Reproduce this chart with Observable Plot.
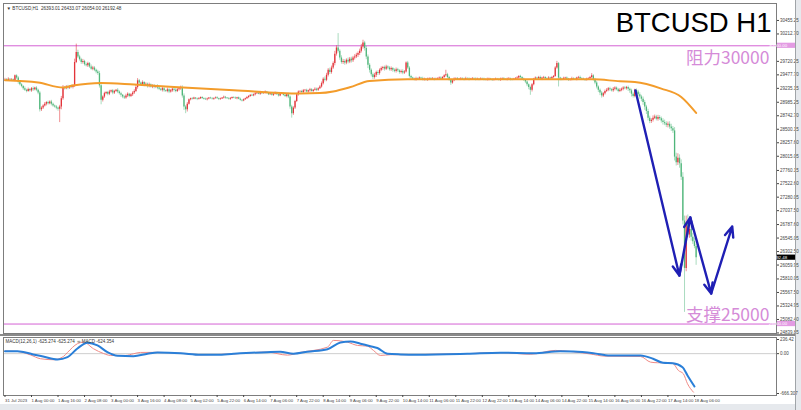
<!DOCTYPE html>
<html><head><meta charset="utf-8">
<script src="https://cdn.jsdelivr.net/npm/d3@7"></script>
<script src="https://cdn.jsdelivr.net/npm/@observablehq/plot@0.6"></script>
<style>
html,body{margin:0;padding:0;background:#fff;}
#wrap{position:relative;width:801px;height:410px;background:#e6e9ed;overflow:hidden;}
#main,#macd{position:absolute;left:0;width:796px;background:#fff;}
#main{top:0;height:334px;}
#sep{position:absolute;left:0;top:334px;width:796px;height:2px;background:#8a8a8a;}
#macd{top:336px;height:68px;}
#vline{position:absolute;left:795px;top:0;width:1px;height:410px;background:#a0a4a8;}
svg{display:block;}
</style></head><body>
<div id="wrap"><div id="main"></div><div id="sep"></div><div id="macd"></div><div id="vline"></div></div>
<script>
// ---------- DATA ----------
const symbolHeader = "▼ BTCUSD,H1  26393.01 26433.07 26054.00 26192.48";
const macdHeader = "MACD(12,26,1) -625.274 -625.274  ∞ MACD -624.354";
const title = "BTCUSD H1";
const resistance = 30000, support = 25000;
const resistanceLabel = "阻力30000", supportLabel = "支撑25000";
const lastPriceLabel = "26192.48";

const firstOpen = 29390;
// hourly closes, bar 0 = 31 Jul 08:00
const closes = [
  29395,29380,29400,29385,29390,29375,29460,29420,
  29340,29300,29270,29230,29200,29180,29215,29190,29230,29210,29240,29200,29150,
  28850,
  28880,28920,28950,28980,28960,28990,28950,28920,28900,28880,28860,28900,
  29050,29250,29230,29260,29240,29270,29250,29280,
  29700,29880,29800,
  29750,29700,29720,29660,29640,29680,29620,29580,29600,29560,29530,29500,
  29280,29020,
  29080,29140,29160,29130,29170,29190,29150,29180,29200,29170,29140,29110,29080,29060,29100,29130,29090,29120,29150,29180,
  29250,29370,29330,
  29300,29340,29290,29310,29270,29300,29260,29280,29250,29270,29240,
  29220,29200,29230,29190,29180,29210,29170,29190,29220,29200,29180,29210,29230,29250,
  29100,28900,28850,28950,
  29030,29050,29040,29060,29045,29035,29050,29070,29055,29040,
  29030,29045,29060,29050,29040,29055,29065,29050,29035,29045,
  29060,29075,29060,29050,29040,29055,29070,29060,29050,29065,
  29040,29020,29010,29030,29050,29070,29090,29110,29100,29120,
  29140,29150,29130,29160,29140,29150,29170,29150,
  29120,29140,29110,29130,29150,29120,29100,29130,29140,29110,29090,29120,29080,
  28900,28780,28880,29000,29120,29170,
  29180,29160,29190,29200,29170,29190,29210,29180,29200,29220,29200,29230,29260,
  29320,29400,29380,29470,29560,29520,29600,29680,
  29850,29960,29900,
  29780,29700,29720,29690,29740,29710,29760,29730,29780,29800,29830,29860,29900,
  29980,30050,29950,
  29800,29650,29560,29480,29430,29470,29520,29500,
  29560,29590,29610,29580,29620,29600,29570,29590,29560,29540,29570,29550,29520,29540,29510,29530,29690,29600,
  29450,29420,29400,29390,29410,29400,29420,29410,29390,29400,29380,29400,29410,29395,29405,29390,
  29400,29410,29420,29400,29430,29460,29480,29430,29380,29330,29370,29400,29410,29395,29400,29410,
  29400,29390,29410,29405,29395,29400,29410,29400,29390,29400,29395,29405,29400,29390,29385,29395,
  29400,29390,29380,29395,29400,29390,29385,29400,29410,29395,29390,29400,29405,29395,29390,29400,
  29410,29420,29450,29430,29400,29380,29350,29300,29250,29200,29300,29400,
  29420,29410,29430,29400,29420,29430,29410,29400,29420,29410,29430,29450,
  29600,29680,29420,
  29400,29390,29410,29420,29400,29380,29390,29410,29400,29390,29420,29430,29410,29400,29390,29380,29400,29410,29430,29460,29390,
  29330,29260,29200,29150,29100,29140,29180,29200,29230,29210,29190,29220,29240,29210,29180,29200,
  29220,29240,29230,29250,29220,29190,29130,29090,29200,
  29170,29120,29080,29040,28980,28900,28820,28700,28640,28660,
  28700,28720,28680,28710,28690,28650,28620,
  28600,28570,28590,28540,28510,28470,
  28000,27900,27980,27880,
  27640,26850,26000,26820,26600,26700,26560,26480,26393,26192.48
];
// wick length (USD) above / below each candle body
const wickUp = [
  20,15,25,10,20,15,15,20,25,30,20,15,30,20,25,15,20,30,15,25,
  20,30,25,20,30,15,25,20,30,20,15,25,20,30,40,35,20,25,30,15,
  25,20,60,150,40,30,25,35,20,30,25,20,35,30,25,20,30,40,30,20,
  25,15,20,30,15,25,20,15,30,20,25,15,20,30,25,15,20,25,30,35,
  40,25,20,30,15,25,20,30,15,20,25,15,30,20,15,25,20,15,30,20,
  25,15,20,30,25,20,25,30,35,25,30,15,10,20,15,10,15,20,10,15,
  10,20,15,10,15,20,10,15,20,10,15,10,20,15,10,20,15,10,15,20,
  10,15,20,10,15,10,20,15,10,20,15,20,10,15,20,10,15,20,10,15,
  20,10,15,20,15,10,20,15,10,20,15,25,20,30,25,20,25,20,15,20,
  25,15,20,15,25,20,15,25,20,15,25,30,25,40,35,30,40,35,30,50,
  40,260,30,40,35,30,25,40,30,35,30,40,35,30,40,45,50,30,40,35,
  30,25,30,35,25,30,25,30,20,25,30,20,25,30,20,25,30,25,20,25,
  30,25,20,30,25,20,15,20,25,15,20,15,25,20,15,20,15,20,25,15,
  20,15,20,25,15,20,80,25,20,15,20,25,15,20,15,20,15,20,25,15,
  20,15,20,15,25,20,15,20,15,20,15,25,20,15,20,15,20,15,25,20,
  15,20,15,20,25,15,20,15,20,25,15,20,15,20,15,20,15,25,20,15,
  20,15,20,25,15,20,15,20,25,15,20,15,25,40,20,15,20,25,15,20,
  15,20,25,15,20,15,20,25,15,20,15,20,15,20,40,20,25,30,20,25,
  30,20,25,30,20,25,20,30,25,20,25,30,20,25,30,20,25,20,30,25,
  20,25,30,35,30,40,35,30,40,35,30,40,35,30,40,35,30,40,45,35,
  40,45,50,40,60,70,80,60,70,80,90,120,140,90,80,70,60,40
];
const wickDown = [
  15,20,15,25,20,15,20,25,30,20,25,30,20,25,15,20,25,30,20,25,
  30,40,30,25,20,30,25,20,30,25,20,30,35,240,50,30,25,20,30,25,
  20,25,30,20,30,25,35,30,25,20,30,25,20,30,25,35,30,40,80,30,
  25,20,30,25,20,30,25,20,30,25,35,30,25,20,30,25,20,30,25,20,
  30,25,20,30,25,20,30,25,20,30,25,20,30,25,20,30,25,20,25,30,
  20,25,30,25,20,25,30,40,60,70,40,15,20,15,10,15,20,10,15,20,
  15,10,20,15,10,15,20,15,10,20,15,10,15,20,10,15,20,15,10,15,
  20,10,15,20,15,10,15,20,15,10,15,20,15,10,20,15,10,15,20,15,
  10,15,20,15,10,20,15,10,15,20,25,30,40,80,30,25,20,25,20,15,
  20,25,15,20,25,15,20,15,25,20,15,20,25,30,25,30,35,30,25,40,
  35,30,40,30,35,40,30,35,30,40,30,35,30,40,35,30,40,45,50,60,
  50,40,35,30,40,35,30,25,30,35,25,30,25,30,35,25,30,25,30,25,
  30,25,20,25,30,20,15,20,25,15,20,15,20,25,15,20,15,20,15,20,
  15,20,25,15,20,15,20,25,15,40,20,15,20,15,20,25,15,20,15,20,
  25,15,20,15,20,15,25,20,15,20,15,20,25,15,20,15,20,15,20,25,
  15,20,15,20,15,25,20,15,20,15,20,25,15,20,30,35,40,90,30,20,
  15,20,15,20,25,15,20,15,20,25,15,20,15,20,160,30,20,15,20,25,
  20,15,20,25,15,20,15,20,25,15,20,15,20,15,20,25,30,35,40,45,
  40,30,25,20,25,30,20,25,30,20,25,20,25,30,20,25,40,45,50,30,
  25,30,35,40,45,50,60,55,50,40,35,30,25,30,35,30,40,45,35,40,
  45,40,50,45,70,60,50,80,60,70,790,60,50,60,70,50,40,138
];
// moving average (orange) read at bar positions
const maIdx = [0,20,35,41,58,78,102,138,178,190,198,208,220,243,300,355,371,380,396,408,417];
const maVal = [29380,29339,29250,29285,29332,29303,29260,29201,29142,29150,29180,29255,29368,29398,29400,29398,29362,29350,29231,29081,28794];
// forecast arrows (blue zig-zag)
const arrowIdx = [380.4,406.9,413.5,426.1,438.8];
const arrowPrice = [29196,25872,26914,25549,26753];
// right price axis ticks
const priceTicks = [30455.25,30212.70,29720.25,29477.70,29235.15,28985.25,28742.70,28500.15,28257.60,28015.05,27760.15,27522.60,27280.05,27037.50,26787.60,26545.05,26302.50,26059.95,25810.05,25567.50,25324.95,25082.40,24839.85];
// MACD lines
const macdIdx = [0,7.5,17,23,31.7,37.7,43.7,49.8,55.8,61.8,67.9,77.5,86,92,106,118,128,138,158,166,174,182.5,194.6,202.4,208.4,214.5,220.5,224.7,230.8,238.6,248.9,279,299,319,335,343,355,365,383.4,391,397,403,408.8,411.8,416];
const macdVal = [42,42,-13,-47,-97,-58,87,182,137,25,-35,-42,-2,20,8,-18,-18,-2,25,32,-2,32,75,187,204,166,125,95,-2,-13,-18,-2,15,8,42,37,8,-30,-30,-85,-152,-159,-226,-364,-548];
const sigIdx = [0,7.5,15.4,21.4,29.3,35.3,37.7,43.7,47.4,53.4,59.4,63.7,72.7,77.5,81.7,92,106,118,138,158,170.4,178,194.6,198.2,206.6,212.7,218.7,222.3,226.5,232.6,249,279,299,317,332,341,353,362,383.4,389.5,393.7,401.5,403.3,406.3,409.3,411.8,415.4];
const sigVal = [42,37,-22,-85,-102,-47,20,166,192,82,3,-30,-30,-2,20,22,6,-20,-4,27,-25,20,109,221,192,137,125,54,-30,-18,-15,0,18,-10,54,37,-5,-42,-47,-142,-152,-152,-169,-281,-336,-503,-644];
const macdTicks = [236.42, 0, -666.307];
const macdTickLabels = ["236.42","0.00","-666.307"];
// time axis
const timeTickIdx = [0,16,32,48,64,80,96,112,128,144,160,176,192,208,224,240,256,272,288,304,320,336,352,368,384,400,416];
const timeTickLabels = ["31 Jul 2023","1 Aug 00:00","1 Aug 16:00","2 Aug 08:00","3 Aug 00:00","3 Aug 16:00","4 Aug 08:00","5 Aug 02:00","5 Aug 22:00","6 Aug 14:00","7 Aug 06:00","7 Aug 22:00","8 Aug 14:00","9 Aug 06:00","9 Aug 22:00","10 Aug 14:00","11 Aug 06:00","11 Aug 22:00","12 Aug 22:00","13 Aug 14:00","14 Aug 06:00","14 Aug 22:00","15 Aug 14:00","16 Aug 06:00","16 Aug 22:00","17 Aug 14:00","18 Aug 06:00"];

// ---------- BUILD ----------
const candles = closes.map((c, i) => {
  const o = i === 0 ? firstOpen : closes[i - 1];
  return {i, o, c, h: Math.max(o, c) + (wickUp[i] ?? 0), l: Math.min(o, c) - (wickDown[i] ?? 0), up: c >= o};
});
const upC = candles.filter(d => d.up), dnC = candles.filter(d => !d.up);
const ma = maIdx.map((i, k) => ({i, v: maVal[k]}));
const legs = arrowIdx.slice(1).map((x2, k) => ({x1: arrowIdx[k], y1: arrowPrice[k], x2, y2: arrowPrice[k + 1]}));
const macdPts = macdIdx.map((i, k) => ({i, v: macdVal[k]}));
const sigPts = sigIdx.map((i, k) => ({i, v: sigVal[k]}));
const timeLabel = new Map(timeTickIdx.map((d, k) => [d, timeTickLabels[k]]));
const macdLabel = new Map(macdTicks.map((d, k) => [d, macdTickLabels[k]]));

const RED = "#e3343a", GREEN = "#4fb67a", PINK = "#d462d4";
const xDomain = [-0.9, 465.5];
const FONT = "'Liberation Sans', Arial, sans-serif";
const CJK = "'Noto Sans CJK SC', sans-serif";

const main = Plot.plot({
  width: 796, height: 334, marginTop: 3, marginBottom: 1, marginLeft: 3, marginRight: 20,
  style: {background: "#fff", fontFamily: FONT, overflow: "visible"},
  x: {domain: xDomain, axis: null},
  y: {domain: [24830, 30760], axis: null},
  marks: [
    Plot.ruleY([resistance, support], {stroke: PINK, strokeWidth: 1}),
    Plot.ruleX(upC, {x: "i", y1: "l", y2: "h", stroke: RED, strokeWidth: 0.8, strokeOpacity: 0.7}),
    Plot.ruleX(dnC, {x: "i", y1: "l", y2: "h", stroke: GREEN, strokeWidth: 0.8, strokeOpacity: 0.6}),
    Plot.ruleX(upC, {x: "i", y1: "o", y2: "c", stroke: RED, strokeWidth: 1.3}),
    Plot.ruleX(dnC, {x: "i", y1: "o", y2: "c", stroke: GREEN, strokeWidth: 1.3}),
    Plot.line(ma, {x: "i", y: "v", stroke: "#f39c2b", strokeWidth: 2, curve: "monotone-x"}),
    Plot.arrow(legs, {x1: "x1", y1: "y1", x2: "x2", y2: "y2", stroke: "#1f1fb4", strokeWidth: 2.4, headLength: 7, headAngle: 45}),
    Plot.frame({stroke: "#7d7d7d"}),
    Plot.axisY({anchor: "right", ticks: priceTicks, tickFormat: d => d.toFixed(2), tickSize: 2, tickPadding: 1.5, fontSize: 4.5, color: "#444", label: null}),
    Plot.text([symbolHeader], {text: d => d, frameAnchor: "top-left", dx: 3, dy: 3, lineAnchor: "top", textAnchor: "start", fontSize: 4.6, fill: "#333"}),
    Plot.text([title], {text: d => d, frameAnchor: "top-right", dx: -5, dy: 9, lineAnchor: "top", textAnchor: "end", fontSize: 27.5, fill: "#000"}),
    Plot.text([resistanceLabel], {text: d => d, y: [resistance], frameAnchor: "right", dx: -7, dy: 18, lineAnchor: "bottom", textAnchor: "end", fontSize: 17.5, fill: "#d58bd8", fontFamily: CJK}),
    Plot.text([supportLabel], {text: d => d, y: [support], frameAnchor: "right", dx: -7, dy: -3, lineAnchor: "bottom", textAnchor: "end", fontSize: 17.5, fill: "#d58bd8", fontFamily: CJK})
  ]
});
document.getElementById("main").appendChild(main);

// highlighted labels on the price axis
const ys = main.scale("y"), xs = main.scale("x");
const axX = xs.apply(xDomain[1]);
const svgM = d3.select(main);
function axisTag(v, txt, bg, fg) {
  const y = ys.apply(v);
  svgM.append("rect").attr("x", axX + 1).attr("y", y - 2.6).attr("width", 18.5).attr("height", 5.2).attr("fill", bg);
  svgM.append("text").attr("x", axX + 2).attr("y", y + 1.5).attr("font-size", 4.4).attr("font-family", FONT).attr("fill", fg).text(txt);
}
axisTag(resistance, resistance.toFixed(2), "#e39be3", "#fff");
axisTag(support, support.toFixed(2), "#e39be3", "#fff");
axisTag(closes[closes.length - 1], lastPriceLabel, "#000", "#fff");

const macd = Plot.plot({
  width: 796, height: 68, marginTop: 1, marginBottom: 9, marginLeft: 3, marginRight: 20,
  style: {background: "#fff", fontFamily: FONT, overflow: "visible"},
  x: {domain: xDomain, axis: null},
  y: {domain: [-699.7, 269.9], axis: null},
  marks: [
    Plot.ruleY([0], {stroke: "#cfcfcf"}),
    Plot.line(sigPts, {x: "i", y: "v", stroke: "#f08a86", strokeWidth: 1, curve: "monotone-x"}),
    Plot.line(macdPts, {x: "i", y: "v", stroke: "#2a7fd8", strokeWidth: 2, curve: "monotone-x"}),
    Plot.frame({stroke: "#7d7d7d"}),
    Plot.axisY({anchor: "right", ticks: macdTicks, tickFormat: d => macdLabel.get(d), tickSize: 2, tickPadding: 1.5, fontSize: 4.5, color: "#444", label: null}),
    Plot.axisX({anchor: "bottom", ticks: timeTickIdx, tickFormat: d => timeLabel.get(d), textAnchor: "start", tickSize: 2, tickPadding: 1, fontSize: 4.3, color: "#444", label: null}),
    Plot.text([macdHeader], {text: d => d, frameAnchor: "top-left", dx: 2, dy: 2, lineAnchor: "top", textAnchor: "start", fontSize: 4.5, fill: "#333"})
  ]
});
document.getElementById("macd").appendChild(macd);
</script></body></html>
